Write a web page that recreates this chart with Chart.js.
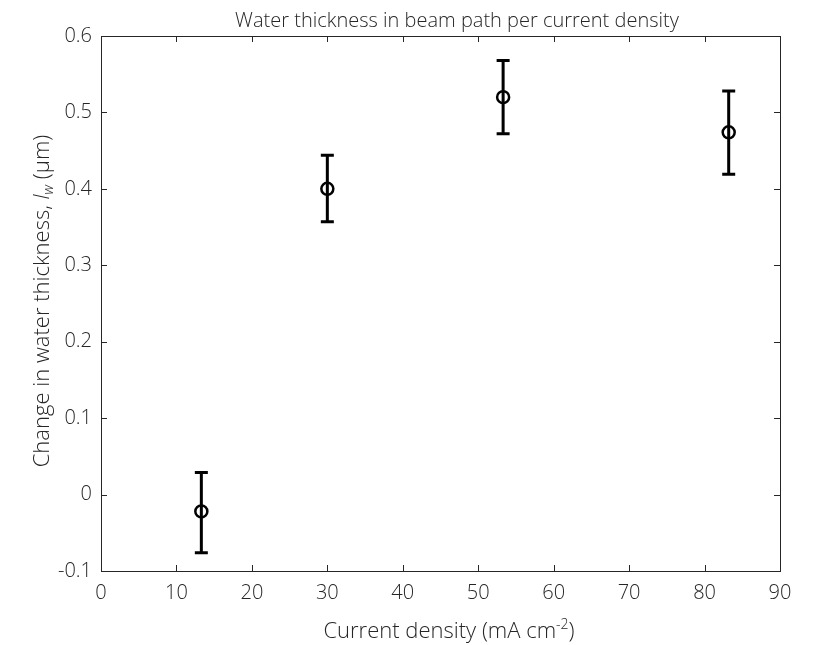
<!DOCTYPE html>
<html lang="en">
<head>
    <meta charset="UTF-8" />
    <title>Water thickness in beam path per current density</title>
    <style>
        body {
            margin: 0;
            padding: 0;
            background: #fff;
        }
    </style>
</head>
<body>
    <canvas id="chart" width="813" height="645"></canvas>

    <script src="https://cdn.jsdelivr.net/npm/chart.js"></script>
    <script>
        // data
        const currentDensity = [13.3, 30, 53.3, 83.2];
        const waterChange = [-0.022, 0.400, 0.520, 0.474];
        const errLow = [-0.076, 0.357, 0.472, 0.419];
        const errHigh = [0.029, 0.444, 0.568, 0.528];
        const xTicks = [0, 10, 20, 30, 40, 50, 60, 70, 80, 90];
        const yTicks = [-0.1, 0, 0.1, 0.2, 0.3, 0.4, 0.5, 0.6];
        const chartTitle = 'Water thickness in beam path per current density';

        const ink = '#262626';
        const fontFamily = '"Open Sans", Lato, sans-serif';

        // box around plot with inward tick marks on all four sides
        const boxPlugin = {
            id: 'box',
            afterDraw(chart) {
                const { ctx, chartArea: a, scales } = chart;
                ctx.save();
                ctx.strokeStyle = ink;
                ctx.lineWidth = 1;
                ctx.strokeRect(a.left + 0.5, a.top + 0.5, a.right - a.left, a.bottom - a.top);
                const len = 6;
                ctx.beginPath();
                xTicks.forEach(v => {
                    const x = Math.round(scales.x.getPixelForValue(v)) + 0.5;
                    ctx.moveTo(x, a.bottom); ctx.lineTo(x, a.bottom - len);
                    ctx.moveTo(x, a.top); ctx.lineTo(x, a.top + len);
                });
                yTicks.forEach(v => {
                    const y = Math.round(scales.y.getPixelForValue(v)) + 0.5;
                    ctx.moveTo(a.left, y); ctx.lineTo(a.left + len, y);
                    ctx.moveTo(a.right, y); ctx.lineTo(a.right - len, y);
                });
                ctx.stroke();
                ctx.restore();
            }
        };

        // vertical error bars with caps
        const errorBarPlugin = {
            id: 'errorBars',
            afterDatasetsDraw(chart) {
                const { ctx, scales } = chart;
                ctx.save();
                ctx.strokeStyle = '#000';
                ctx.lineWidth = 3;
                const cap = 6.5;
                currentDensity.forEach((cx, i) => {
                    const x = scales.x.getPixelForValue(cx);
                    const y1 = scales.y.getPixelForValue(errLow[i]);
                    const y2 = scales.y.getPixelForValue(errHigh[i]);
                    ctx.beginPath();
                    ctx.moveTo(x, y1); ctx.lineTo(x, y2);
                    ctx.moveTo(x - cap, y1); ctx.lineTo(x + cap, y1);
                    ctx.moveTo(x - cap, y2); ctx.lineTo(x + cap, y2);
                    ctx.stroke();
                });
                ctx.restore();
            }
        };

        // title + axis titles (italic / sub / superscript pieces)
        const textPlugin = {
            id: 'texts',
            afterDraw(chart) {
                const { ctx } = chart;
                ctx.save();
                ctx.fillStyle = ink;
                ctx.textBaseline = 'alphabetic';

                drawParts(ctx, [{ t: chartTitle, f: '300 20px ' + fontFamily, dy: 0 }], 457, 27);

                const big = '300 22px ' + fontFamily;
                const small = '300 14px ' + fontFamily;
                const xParts = [
                    { t: 'Current density (mA cm', f: big, dy: 0 },
                    { t: '-2', f: small, dy: -9 },
                    { t: ')', f: big, dy: 0 }
                ];
                drawParts(ctx, xParts, 449, 638);

                const yParts = [
                    { t: 'Change in water thickness, ', f: big, dy: 0 },
                    { t: 'l', f: 'italic ' + big, dy: 0 },
                    { t: 'w', f: 'italic ' + small, dy: 4 },
                    { t: ' (\u03bcm)', f: big, dy: 0 }
                ];
                ctx.translate(49, 301);
                ctx.rotate(-Math.PI / 2);
                drawParts(ctx, yParts, 0, 0);
                ctx.restore();
            }
        };

        function drawParts(ctx, parts, cx, baseY) {
            let total = 0;
            parts.forEach(p => { ctx.font = p.f; p.w = ctx.measureText(p.t).width; total += p.w; });
            let x = cx - total / 2;
            ctx.textAlign = 'left';
            parts.forEach(p => {
                ctx.font = p.f;
                ctx.fillText(p.t, x, baseY + p.dy);
                x += p.w;
            });
        }

        const ctx = document.getElementById('chart').getContext('2d');
        const chart = new Chart(ctx, {
            type: 'scatter',
            data: {
                datasets: [{
                    label: 'Water thickness',
                    data: currentDensity.map((x, i) => ({ x: x, y: waterChange[i] })),
                    pointStyle: 'circle',
                    pointRadius: 6,
                    pointBorderWidth: 2.5,
                    pointBorderColor: '#000',
                    pointBackgroundColor: 'rgba(0,0,0,0)',
                    showLine: false
                }]
            },
            options: {
                responsive: false,
                animation: false,
                layout: {
                    padding: { left: 0, right: 33, top: 36, bottom: 0 }
                },
                plugins: {
                    legend: { display: false },
                    tooltip: { enabled: false },
                    title: { display: false }
                },
                scales: {
                    x: {
                        type: 'linear',
                        min: 0,
                        max: 90,
                        afterBuildTicks: s => { s.ticks = xTicks.map(v => ({ value: v })); },
                        afterFit: s => { s.height = 74; },
                        grid: { display: false, drawTicks: false },
                        border: { display: false },
                        ticks: {
                            color: ink,
                            padding: 10,
                            font: { family: fontFamily, size: 20, weight: 300 },
                            maxRotation: 0
                        }
                    },
                    y: {
                        type: 'linear',
                        min: -0.1,
                        max: 0.6,
                        afterBuildTicks: s => { s.ticks = yTicks.map(v => ({ value: v })); },
                        afterFit: s => { s.width = 101; },
                        grid: { display: false, drawTicks: false },
                        border: { display: false },
                        ticks: {
                            color: ink,
                            padding: 9,
                            font: { family: fontFamily, size: 20, weight: 300 },
                            callback: v => Math.abs(v) < 1e-9 ? '0' : v.toFixed(1)
                        }
                    }
                }
            },
            plugins: [boxPlugin, errorBarPlugin, textPlugin]
        });
    </script>
</body>
</html>
